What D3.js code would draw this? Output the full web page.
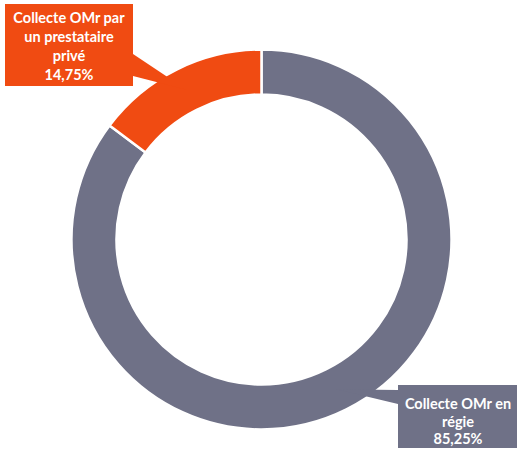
<!DOCTYPE html>
<html>
<head>
<meta charset="utf-8">
<script src="https://cdn.jsdelivr.net/npm/d3@7"></script>
<style>
  body { margin: 0; background: #fff; }
  text { font-family: Lato, "Open Sans", sans-serif; font-weight: bold; }
</style>
</head>
<body>
<script>
const categories = ["Collecte OMr en régie", "Collecte OMr par un prestataire privé"];
const values = [85.25, 14.75];
const labelLines = [["Collecte OMr en", "régie", "85,25%"], ["Collecte OMr par", "un prestataire", "privé", "14,75%"]];
const colors = ["#6f7187", "#f04b12"];

const width = 517, height = 455;
const cx = 261.5, cy = 239.5;

const svg = d3.select("body").append("svg")
    .attr("width", width)
    .attr("height", height);

const pie = d3.pie().sort(null).value(d => d);
const arc = d3.arc().innerRadius(145).outerRadius(190);

const arcs = pie(values);

const g = svg.append("g").attr("transform", `translate(${cx},${cy})`);

g.selectAll("path")
  .data(arcs)
  .enter().append("path")
    .attr("d", arc)
    .attr("fill", (d, i) => colors[i])
    .attr("stroke", "#fff")
    .attr("stroke-width", 2.5);

// callout boxes (box rect + pointer base on a box side), tip at slice centroid
const boxes = [
  { x: 398, y: 385, w: 125, h: 63, side: "left", b0: 390, b1: 404, cx: 458, lineY: 409, step: 17.5 },
  { x: 5, y: 4, w: 128, h: 82, side: "right", b0: 54, b1: 76, cx: 69, lineY: 23, step: 19 }
];

boxes.forEach((b, i) => {
  const c = arc.centroid(arcs[i]);
  const tx = c[0] + cx, ty = c[1] + cy;
  const ex = b.side === "left" ? b.x : b.x + b.w;
  svg.append("path")
    .attr("d", `M${ex},${b.b0}L${tx},${ty}L${ex},${b.b1}Z`)
    .attr("fill", colors[i]);
  svg.append("rect")
    .attr("x", b.x).attr("y", b.y)
    .attr("width", b.w).attr("height", b.h)
    .attr("fill", colors[i]);
  svg.append("text")
    .attr("text-anchor", "middle")
    .attr("fill", "#fff")
    .attr("font-size", 14.5)
    .selectAll("tspan")
    .data(labelLines[i])
    .enter().append("tspan")
      .attr("x", b.cx)
      .attr("y", (d, j) => b.lineY + j * b.step)
      .text(d => d);
});
</script>
</body>
</html>
